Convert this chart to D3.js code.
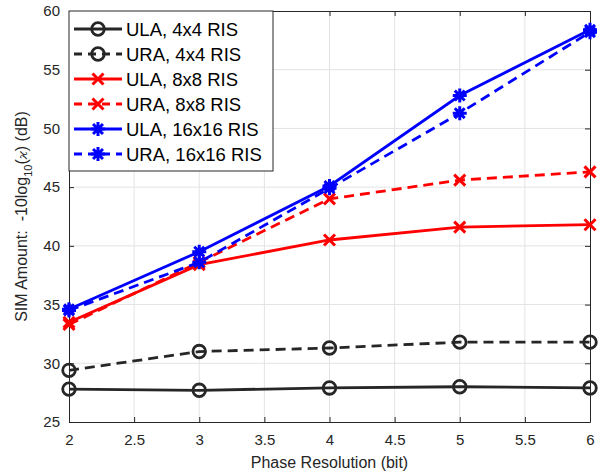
<!DOCTYPE html>
<html>
<head>
<meta charset="utf-8">
<script src="https://cdn.jsdelivr.net/npm/d3@7"></script>
<style>
  body { margin: 0; background: #fff; }
  svg { font-family: "Liberation Sans", Arial, sans-serif; }
</style>
</head>
<body>
<div id="chart"></div>
<script>
// Phase resolution in bits
var bits = [2, 3, 4, 5, 6];

// SIM amount (dB)
var ula4 = [27.8, 27.7, 27.9, 28.0, 27.9];
var ura4 = [29.4, 31.0, 31.3, 31.8, 31.8];
var ula8 = [33.5, 38.4, 40.5, 41.6, 41.8];
var ura8 = [33.3, 38.6, 44.0, 45.6, 46.3];
var ula16 = [34.6, 39.5, 45.1, 52.8, 58.4];
var ura16 = [34.5, 38.6, 44.9, 51.3, 58.2];

var xTicks = [2, 2.5, 3, 3.5, 4, 4.5, 5, 5.5, 6];
var yTicks = [25, 30, 35, 40, 45, 50, 55, 60];

var series = [
  {name: "ULA, 4x4 RIS", values: ula4, color: "#262626", dash: null, marker: "circle"},
  {name: "URA, 4x4 RIS", values: ura4, color: "#262626", dash: "10,6", marker: "circle"},
  {name: "ULA, 8x8 RIS", values: ula8, color: "#ff0000", dash: null, marker: "x"},
  {name: "URA, 8x8 RIS", values: ura8, color: "#ff0000", dash: "10,6", marker: "x"},
  {name: "ULA, 16x16 RIS", values: ula16, color: "#0000ff", dash: null, marker: "star"},
  {name: "URA, 16x16 RIS", values: ura16, color: "#0000ff", dash: "10,6", marker: "star"}
];

var W = 606, H = 475;
var margin = {top: 11, right: 16, bottom: 53, left: 69},
    width = W - margin.left - margin.right,
    height = H - margin.top - margin.bottom;

var svg = d3.select("#chart")
  .append("svg")
    .attr("width", W)
    .attr("height", H);

var g = svg.append("g")
  .attr("transform", "translate(" + margin.left + "," + margin.top + ")");

var x = d3.scaleLinear().domain([2, 6]).range([0, width]);
var y = d3.scaleLinear().domain([25, 60]).range([height, 0]);

// Grid lines
g.append("g").selectAll("line")
  .data(xTicks.slice(1, -1))
  .enter().append("line")
    .attr("x1", function(d) { return x(d); })
    .attr("x2", function(d) { return x(d); })
    .attr("y1", 0).attr("y2", height)
    .attr("stroke", "#e3e3e3").attr("stroke-width", 1);
g.append("g").selectAll("line")
  .data(yTicks.slice(1, -1))
  .enter().append("line")
    .attr("y1", function(d) { return y(d); })
    .attr("y2", function(d) { return y(d); })
    .attr("x1", 0).attr("x2", width)
    .attr("stroke", "#e3e3e3").attr("stroke-width", 1);

// Axes (MATLAB style box with inward ticks)
function styleAxis(sel, showLabels) {
  sel.select(".domain").attr("stroke", "#262626").attr("stroke-width", 1);
  sel.selectAll(".tick line").attr("stroke", "#262626");
  sel.selectAll(".tick text")
    .attr("fill", "#262626")
    .style("font-size", "15px")
    .style("display", showLabels ? null : "none");
}

var fmt = d3.format("~g");

g.append("g")
  .attr("transform", "translate(0," + height + ")")
  .call(d3.axisBottom(x).tickValues(xTicks).tickFormat(fmt).tickSize(-5).tickPadding(12).tickSizeOuter(0))
  .call(styleAxis, true);
g.append("g")
  .call(d3.axisTop(x).tickValues(xTicks).tickSize(-5).tickSizeOuter(0))
  .call(styleAxis, false);
g.append("g")
  .call(d3.axisLeft(y).tickValues(yTicks).tickFormat(fmt).tickSize(-5).tickPadding(9).tickSizeOuter(0))
  .call(styleAxis, true);
g.append("g")
  .attr("transform", "translate(" + width + ",0)")
  .call(d3.axisRight(y).tickValues(yTicks).tickSize(-5).tickSizeOuter(0))
  .call(styleAxis, false);

// Marker drawing
function drawMarker(sel, type, color) {
  if (type === "circle") {
    sel.append("circle")
      .attr("r", 6.3)
      .attr("fill", "none")
      .attr("stroke", color)
      .attr("stroke-width", 2.8);
  } else if (type === "x") {
    var s = 5.5;
    sel.append("path")
      .attr("d", "M" + -s + "," + -s + "L" + s + "," + s + "M" + -s + "," + s + "L" + s + "," + -s)
      .attr("stroke", color)
      .attr("stroke-width", 3);
  } else {
    var r = 7, d = r * 0.7071;
    sel.append("path")
      .attr("d", "M" + -r + ",0L" + r + ",0M0," + -r + "L0," + r +
                 "M" + -d + "," + -d + "L" + d + "," + d + "M" + -d + "," + d + "L" + d + "," + -d)
      .attr("stroke", color)
      .attr("stroke-width", 3);
  }
}

var line = d3.line()
  .x(function(d, i) { return x(bits[i]); })
  .y(function(d) { return y(d); });

series.forEach(function(s) {
  g.append("path")
    .datum(s.values)
    .attr("fill", "none")
    .attr("stroke", s.color)
    .attr("stroke-width", 2.8)
    .attr("stroke-dasharray", s.dash)
    .attr("d", line);

  g.selectAll(null)
    .data(s.values)
    .enter().append("g")
      .attr("transform", function(d, i) { return "translate(" + x(bits[i]) + "," + y(d) + ")"; })
      .each(function() { drawMarker(d3.select(this), s.marker, s.color); });
});

// Legend
var legend = g.append("g").attr("transform", "translate(0,0)");
legend.append("rect")
  .attr("x", 0).attr("y", 0)
  .attr("width", 204).attr("height", 160)
  .attr("fill", "#fff")
  .attr("stroke", "#262626")
  .attr("stroke-width", 1);

series.forEach(function(s, i) {
  var row = legend.append("g").attr("transform", "translate(0," + (18 + i * 25) + ")");
  row.append("line")
    .attr("x1", 5).attr("x2", 53)
    .attr("stroke", s.color)
    .attr("stroke-width", 2.8)
    .attr("stroke-dasharray", s.dash ? "8,6" : null);
  var m = row.append("g").attr("transform", "translate(29,0)");
  drawMarker(m, s.marker, s.color);
  row.append("text")
    .attr("x", 57)
    .attr("dy", "0.36em")
    .attr("fill", "#000")
    .style("font-size", "18.5px")
    .text(s.name);
});

// Axis labels
svg.append("text")
  .attr("x", margin.left + width / 2)
  .attr("y", 468)
  .attr("text-anchor", "middle")
  .attr("fill", "#262626")
  .style("font-size", "16px")
  .text("Phase Resolution (bit)");

var yl = svg.append("text")
  .attr("transform", "translate(27," + (margin.top + height / 2) + ") rotate(-90)")
  .attr("text-anchor", "middle")
  .attr("fill", "#262626")
  .style("font-size", "16px");
yl.append("tspan").text("SIM Amount:\u00a0 -10log");
yl.append("tspan").attr("dy", 5).style("font-size", "11px").text("10");
yl.append("tspan").attr("dy", -5).text("(");
yl.append("tspan").style("font-family", "'DejaVu Serif', serif").style("font-style", "italic").style("font-size", "13px").text("\u03f0");
yl.append("tspan").text(") (dB)");
</script>
</body>
</html>
